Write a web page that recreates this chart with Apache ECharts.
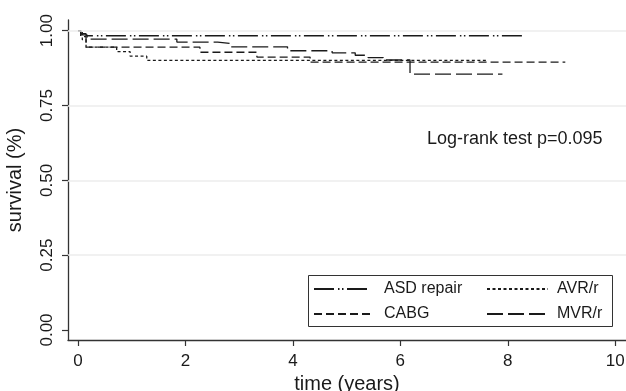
<!DOCTYPE html>
<html>
<head>
<meta charset="utf-8">
<script src="https://cdn.jsdelivr.net/npm/echarts@6/dist/echarts.min.js"></script>
<style>
  html, body { margin: 0; padding: 0; background: #fff; }
  #main { width: 626px; height: 391px; }
</style>
</head>
<body>
<div id="main"></div>
<script>
// Kaplan-Meier steps: [time (years), survival]
var asdRepair = [[0, 1], [0.05, 0.99], [0.15, 0.983], [8.28, 0.983]];
var cabg = [[0, 1], [0.05, 0.98], [0.15, 0.945], [2.27, 0.928], [3.33, 0.912], [4.32, 0.895], [9.07, 0.895]];
var avr = [[0, 1], [0.08, 0.97], [0.15, 0.945], [0.72, 0.930], [0.97, 0.915], [1.28, 0.901], [7.63, 0.901]];
var mvr = [[0, 1], [0.05, 0.986], [0.17, 0.972], [1.84, 0.962], [2.6, 0.957], [2.85, 0.946], [3.9, 0.933],
  [4.73, 0.926], [5.16, 0.918], [5.4, 0.91], [5.68, 0.902], [6.18, 0.855], [7.9, 0.855]];

var xTicks = [0, 2, 4, 6, 8, 10];
var yTicks = [0, 0.25, 0.5, 0.75, 1];
var yGrid = [0.25, 0.5, 0.75, 1];

var font = "'Liberation Sans', Arial, sans-serif";
var ink = '#1a1a1a';

var chart = echarts.init(document.getElementById('main'), null, { renderer: 'canvas' });

function km(name, data, dash) {
  return {
    name: name,
    type: 'line',
    step: 'end',
    data: data,
    symbol: 'none',
    z: 3,
    animation: false,
    itemStyle: { color: ink },
    lineStyle: { color: ink, width: 1.3, type: dash }
  };
}

var option = {
  animation: false,
  backgroundColor: '#fff',
  grid: { left: 68, right: 0, top: 20, bottom: 51, outerBoundsMode: 'none', containLabel: false },
  xAxis: {
    type: 'value',
    min: -0.186,
    max: 10.2,
    name: 'time (years)',
    nameLocation: 'middle',
    nameGap: 28,
    nameTextStyle: { fontFamily: font, fontSize: 20, color: ink },
    axisLine: { onZero: false, lineStyle: { color: '#333', width: 1.3 } },
    axisTick: { show: true, length: 6, customValues: xTicks, lineStyle: { color: '#333', width: 1.2 } },
    axisLabel: { customValues: xTicks, fontFamily: font, fontSize: 17, color: ink, margin: 13 },
    splitLine: { show: false }
  },
  yAxis: {
    type: 'value',
    min: -0.0334,
    max: 1.0357,
    name: 'survival (%)',
    nameLocation: 'middle',
    nameGap: 43,
    nameTextStyle: { fontFamily: font, fontSize: 20, color: ink },
    axisLine: { show: true, onZero: false, lineStyle: { color: '#333', width: 1.3 } },
    axisTick: { show: true, length: 6, customValues: yTicks, lineStyle: { color: '#333', width: 1.2 } },
    axisLabel: {
      customValues: yTicks, rotate: 90, fontFamily: font, fontSize: 17, color: ink, margin: 12,
      formatter: function (v) { return v.toFixed(2); }
    },
    splitLine: { show: false }
  },
  legend: [{
    orient: 'vertical', left: 313, top: 281, padding: 0, itemGap: 9,
    itemWidth: 57, itemHeight: 14,
    data: ['ASD repair', 'CABG'],
    itemStyle: { opacity: 0 },
    textStyle: { fontFamily: font, fontSize: 16, color: ink, padding: [0, 0, 0, 8] }
  }, {
    orient: 'vertical', left: 486, top: 281, padding: 0, itemGap: 9,
    itemWidth: 61, itemHeight: 14,
    data: ['AVR/r', 'MVR/r'],
    itemStyle: { opacity: 0 },
    textStyle: { fontFamily: font, fontSize: 16, color: ink, padding: [0, 0, 0, 4] }
  }],
  graphic: [{
    type: 'rect', left: 306, top: 273, z: 10, silent: true,
    shape: { width: 304, height: 51 },
    style: { fill: 'none', stroke: '#333', lineWidth: 1 }
  }, {
    type: 'text', left: 427, top: 130, z: 10, silent: true,
    style: { text: 'Log-rank test p=0.095', font: '18px ' + font, fill: ink }
  }],
  series: [
    {
      name: 'grid',
      type: 'line',
      data: [],
      z: 1,
      silent: true,
      markLine: {
        silent: true,
        symbol: 'none',
        label: { show: false },
        lineStyle: { color: '#ececec', width: 1.5, type: 'solid' },
        data: yGrid.map(function (v) { return { yAxis: v }; })
      }
    },
    km('ASD repair', asdRepair, [20, 4, 1.5, 2.5, 1.5, 3.5]),
    km('CABG', cabg, [8, 4]),
    km('AVR/r', avr, [3, 2.5]),
    km('MVR/r', mvr, [16, 5])
  ]
};

chart.setOption(option);
</script>
</body>
</html>
